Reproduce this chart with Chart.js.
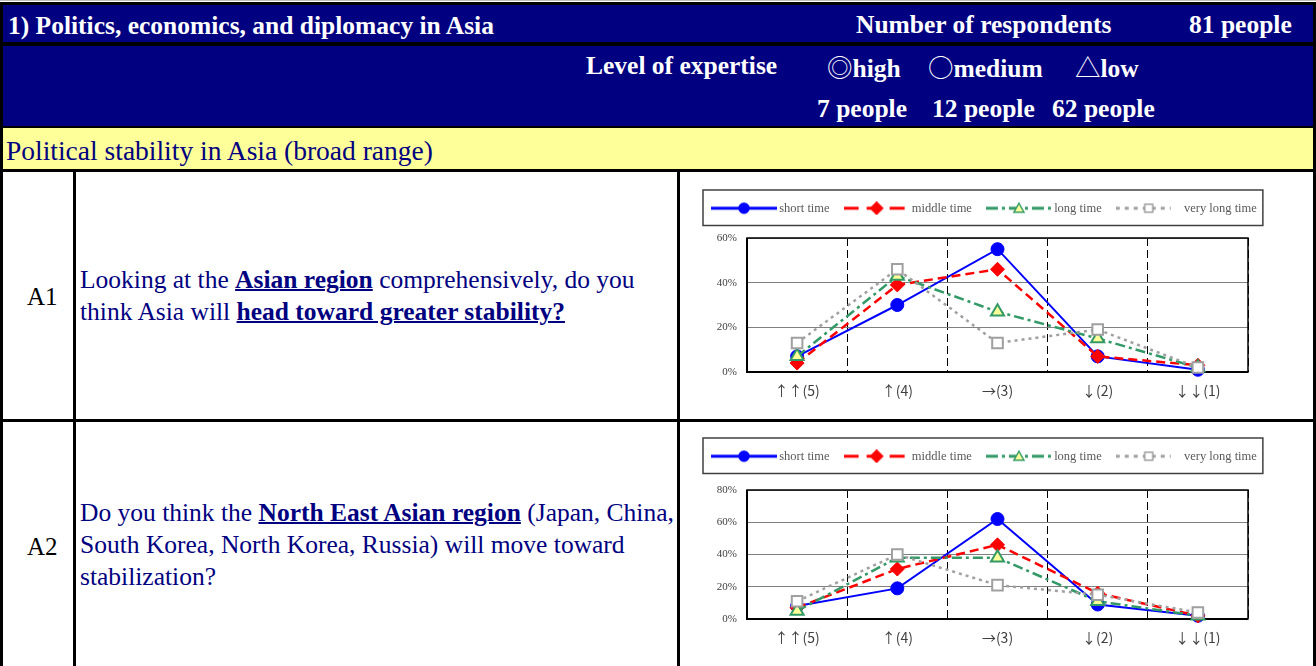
<!DOCTYPE html>
<html>
<head>
<meta charset="utf-8">
<script src="https://cdn.jsdelivr.net/npm/chart.js@4.4.0/dist/chart.umd.min.js"></script>
<style>
body { margin: 0; width: 1316px; height: 666px; overflow: hidden; background: #fff; position: relative;
       font-family: "Liberation Serif", "Times New Roman", serif; }
.box { position: absolute; }
.t { position: absolute; white-space: nowrap; line-height: 1; }
.hw { color: #fff; font-weight: bold; font-size: 25.5px; }
.sym { font-family: "Noto Sans CJK JP", "DejaVu Sans", sans-serif; font-weight: normal; }
.q { position: absolute; left: 80px; font-size: 25.5px; line-height: 32px; color: #000080; white-space: nowrap; }
.q u { text-decoration-thickness: 2px; }
.lab { font-size: 25px; color: #000; }
canvas { position: absolute; }
</style>
</head>
<body>
<div class="box" style="left:0;top:0;width:1316px;height:1px;background:#bdbdbd"></div>
<div class="box" style="left:0;top:2px;width:1316px;height:664px;background:#000"></div>
<div class="box" style="left:3px;top:5px;width:1310px;height:37px;background:#000080"></div>
<div class="box" style="left:3px;top:46px;width:1310px;height:80px;background:#000080"></div>
<div class="box" style="left:3px;top:128px;width:1310px;height:41px;background:#ffff99"></div>
<div class="box" style="left:3px;top:172px;width:70px;height:247px;background:#fff"></div>
<div class="box" style="left:76px;top:172px;width:601px;height:247px;background:#fff"></div>
<div class="box" style="left:680px;top:172px;width:633px;height:247px;background:#fff"></div>
<div class="box" style="left:3px;top:422px;width:70px;height:244px;background:#fff"></div>
<div class="box" style="left:76px;top:422px;width:601px;height:244px;background:#fff"></div>
<div class="box" style="left:680px;top:422px;width:633px;height:244px;background:#fff"></div>

<div class="t hw" style="left:8px;top:13px">1) Politics, economics, and diplomacy in Asia</div>
<div class="t hw" style="left:856px;top:12px">Number of respondents</div>
<div class="t hw" style="left:1189px;top:12px">81 people</div>
<div class="t hw" style="left:586px;top:53px">Level of expertise</div>
<div class="t hw" style="left:827px;top:53px"><span class="sym">◎</span>high</div>
<div class="t hw" style="left:928px;top:53px"><span class="sym">○</span>medium</div>
<div class="t hw" style="left:1075px;top:53px"><span class="sym">△</span>low</div>
<div class="t hw" style="left:817px;top:96px">7 people</div>
<div class="t hw" style="left:932px;top:96px">12 people</div>
<div class="t hw" style="left:1052px;top:96px">62 people</div>

<div class="t" style="left:6px;top:137px;font-size:27.5px;color:#000080">Political stability in Asia (broad range)</div>

<div class="t lab" style="left:27px;top:284px">A1</div>
<div class="q" style="top:264px">Looking at the <b><u>Asian region</u></b> comprehensively, do you<br>think Asia will <b><u>head toward greater stability?</u></b></div>

<div class="t lab" style="left:27px;top:534px">A2</div>
<div class="q" style="top:497px">Do you think the <b><u>North East Asian region</u></b> (Japan, China,<br>South Korea, North Korea, Russia) will move toward<br>stabilization?</div>

<canvas id="chartA1" width="633" height="247" style="left:680px;top:172px"></canvas>
<canvas id="chartA2" width="633" height="244" style="left:680px;top:422px"></canvas>

<script>
const categories = ['↑↑(5)', '↑(4)', '→(3)', '↓(2)', '↓↓(1)'];
const seriesNames = ['short time', 'middle time', 'long time', 'very long time'];

// A1: Asian region as a whole (% of respondents)
const a1Short = [7, 30, 55, 7, 1];
const a1Middle = [4, 39, 46, 7, 3];
const a1Long = [7, 43, 27, 15, 2];
const a1VeryLong = [13, 46, 13, 19, 2];
const a1Ticks = [0, 20, 40, 60];

// A2: North East Asian region
const a2Short = [8, 19, 62, 9, 2];
const a2Middle = [7, 31, 46, 16, 2];
const a2Long = [5, 38, 38, 11, 2];
const a2VeryLong = [11, 40, 21, 15, 4];
const a2Ticks = [0, 20, 40, 60, 80];

const serif = '"Liberation Serif", "Times New Roman", serif';
const tickFont = '"Noto Sans CJK JP", "Liberation Serif", serif';

const seriesStyles = [
    {color: '#0000ff', dash: [], legendDash: [], lineEnd: 66, point: 'circle', radius: 6.5, fill: '#0000ff', pointBorder: 1, width: 2},
    {color: '#ff0000', dash: [9, 5], legendDash: [15, 8], lineEnd: 66, point: 'rectRot', radius: 7, fill: '#ff0000', pointBorder: 1, width: 2.5},
    {color: '#339966', dash: [10, 4, 3, 4], legendDash: [12, 4, 3, 4], lineEnd: 66, point: 'triangle', radius: 7.5, fill: '#ffff99', pointBorder: 2, width: 2.5},
    {color: '#a0a0a0', dash: [3, 4], legendDash: [4, 5], lineEnd: 55, point: 'rect', radius: 7.5, fill: '#ffffff', pointBorder: 2, width: 2.5}
];

// small picture of line + marker for each legend entry
const legendSample = function(st) {
    const c = document.createElement('canvas');
    c.width = 66;
    c.height = 14;
    const g = c.getContext('2d');
    g.strokeStyle = st.color;
    g.lineWidth = 3;
    g.setLineDash(st.legendDash);
    g.beginPath();
    g.moveTo(0, 7);
    g.lineTo(st.lineEnd, 7);
    g.stroke();
    g.setLineDash([]);
    g.fillStyle = st.fill;
    g.lineWidth = 1.5;
    g.beginPath();
    if (st.point === 'circle') {
        g.arc(33, 7, 5, 0, Math.PI * 2);
    } else if (st.point === 'rectRot') {
        g.moveTo(27, 7); g.lineTo(33, 1); g.lineTo(39, 7); g.lineTo(33, 13); g.closePath();
    } else if (st.point === 'triangle') {
        g.moveTo(33, 2); g.lineTo(38, 11); g.lineTo(28, 11); g.closePath();
    } else {
        g.rect(29, 3, 8, 8);
    }
    g.fill();
    g.stroke();
    return c;
};
const legendImages = seriesStyles.map(legendSample);

const legendFrame = {
    id: 'legendFrame',
    afterDraw(chart) {
        const boxes = chart.legend.legendHitBoxes;
        if (!boxes || !boxes.length) return;
        const first = boxes[0];
        const last = boxes[boxes.length - 1];
        const ctx = chart.ctx;
        ctx.save();
        ctx.strokeStyle = '#404040';
        ctx.lineWidth = 1.5;
        ctx.strokeRect(first.left - 12, first.top - 12, last.left + last.width - first.left + 18, first.height + 23);
        ctx.restore();
    }
};

const plotFrame = {
    id: 'plotFrame',
    beforeDatasetsDraw(chart) {
        const ctx = chart.ctx;
        const a = chart.chartArea;
        ctx.save();
        ctx.strokeStyle = '#000';
        ctx.lineWidth = 1.5;
        ctx.strokeRect(a.left, a.top, a.right - a.left, a.bottom - a.top);
        ctx.lineWidth = 2;
        ctx.beginPath();
        ctx.moveTo(a.left, a.top);
        ctx.lineTo(a.left, a.bottom);
        ctx.lineTo(a.right, a.bottom);
        ctx.stroke();
        ctx.restore();
    }
};

// gap: empty space between legend and plot area (top spacer axis)
const buildChart = function(id, seriesData, yTicks, padTop, gap) {
    const datasets = seriesData.map((values, i) => {
        const st = seriesStyles[i];
        return {
            label: seriesNames[i],
            data: values,
            borderColor: st.color,
            backgroundColor: st.fill,
            borderWidth: st.width,
            borderDash: st.dash,
            pointStyle: st.point,
            pointRadius: st.radius,
            pointBorderColor: st.color,
            pointBackgroundColor: st.fill,
            pointBorderWidth: st.pointBorder,
            tension: 0,
            fill: false,
            clip: false,
            order: seriesData.length - i
        };
    });
    return new Chart(document.getElementById(id), {
        type: 'line',
        data: {labels: categories, datasets: datasets},
        plugins: [plotFrame, legendFrame],
        options: {
            responsive: false,
            animation: false,
            events: [],
            layout: {padding: {left: 17, right: 0, top: padTop, bottom: 0}},
            plugins: {
                tooltip: {enabled: false},
                legend: {
                    position: 'top',
                    align: 'start',
                    labels: {
                        usePointStyle: true,
                        pointStyleWidth: 58,
                        padding: 18,
                        color: '#595959',
                        font: {family: serif, size: 12.5},
                        generateLabels: function(chart) {
                            return seriesNames.map((name, i) => ({
                                text: name,
                                datasetIndex: i,
                                pointStyle: legendImages[i],
                                fillStyle: seriesStyles[i].fill,
                                strokeStyle: seriesStyles[i].color,
                                fontColor: '#595959',
                                lineWidth: 0,
                                hidden: false
                            }));
                        }
                    }
                }
            },
            scales: {
                x: {
                    offset: true,
                    grid: {offset: true, color: '#000', lineWidth: 1, drawTicks: false},
                    border: {display: false, dash: [8, 4]},
                    ticks: {color: '#404040', padding: 10, font: {family: tickFont, size: 14}},
                    afterFit: function(scale) { scale.height = 47; }
                },
                x2: {
                    position: 'top',
                    grid: {display: false},
                    border: {display: false},
                    ticks: {display: false},
                    afterFit: function(scale) { scale.height = gap; }
                },
                y: {
                    min: yTicks[0],
                    max: yTicks[yTicks.length - 1],
                    afterBuildTicks: function(scale) {
                        scale.ticks = yTicks.map(v => ({value: v}));
                    },
                    grid: {color: '#808080', lineWidth: 1, drawTicks: false},
                    border: {display: false},
                    ticks: {
                        color: '#404040',
                        padding: 10,
                        font: {family: serif, size: 11},
                        callback: v => v + '%'
                    },
                    afterFit: function(scale) { scale.width = 50; }
                },
                y2: {
                    position: 'right',
                    grid: {display: false},
                    border: {display: false},
                    ticks: {display: false},
                    afterFit: function(scale) { scale.width = 65; }
                }
            }
        }
    });
};

buildChart('chartA1', [a1Short, a1Middle, a1Long, a1VeryLong], a1Ticks, 12, 13.5);
buildChart('chartA2', [a2Short, a2Middle, a2Long, a2VeryLong], a2Ticks, 10, 17.5);
</script>
</body>
</html>
